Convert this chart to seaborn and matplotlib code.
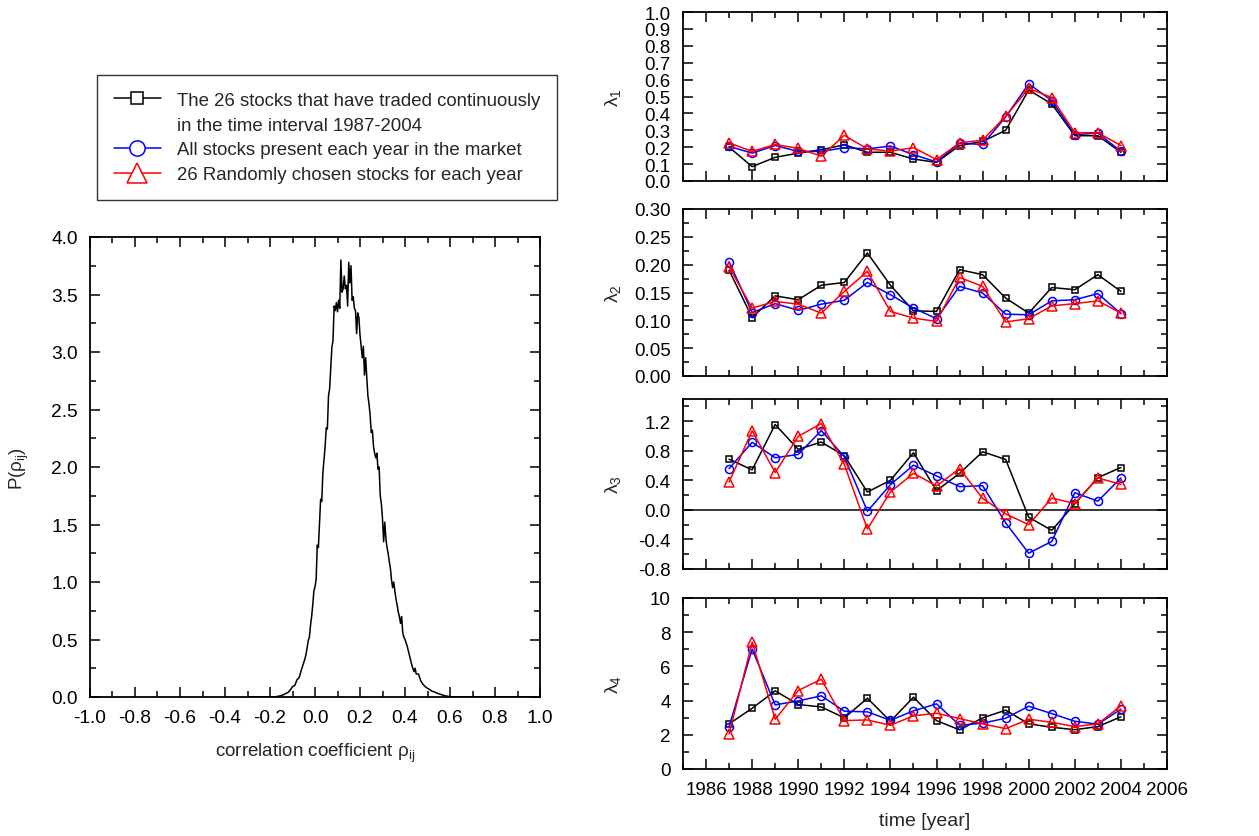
import numpy as np
import pandas as pd
import matplotlib
matplotlib.use("Agg")
import matplotlib.pyplot as plt
from matplotlib.lines import Line2D
from matplotlib.ticker import MultipleLocator, FormatStrFormatter
import seaborn as sns

# ---------------- data ----------------
years = list(range(1987, 2005))

lam1_const = [0.20, 0.085, 0.14, 0.165, 0.185, 0.214, 0.17, 0.17, 0.13, 0.11, 0.21, 0.234, 0.30, 0.538, 0.456, 0.268, 0.268, 0.17]
lam1_all = [0.205, 0.165, 0.21, 0.175, 0.175, 0.197, 0.19, 0.207, 0.156, 0.113, 0.224, 0.216, 0.379, 0.575, 0.476, 0.274, 0.284, 0.175]
lam1_rand = [0.226, 0.175, 0.216, 0.193, 0.147, 0.27, 0.19, 0.177, 0.197, 0.127, 0.226, 0.242, 0.383, 0.548, 0.494, 0.286, 0.286, 0.21]

lam2_const = [0.190, 0.105, 0.144, 0.137, 0.163, 0.168, 0.221, 0.163, 0.117, 0.116, 0.191, 0.182, 0.140, 0.113, 0.159, 0.155, 0.182, 0.152]
lam2_all = [0.205, 0.114, 0.130, 0.118, 0.129, 0.136, 0.168, 0.146, 0.122, 0.103, 0.161, 0.149, 0.111, 0.110, 0.135, 0.137, 0.148, 0.112]
lam2_rand = [0.196, 0.122, 0.134, 0.129, 0.113, 0.152, 0.188, 0.116, 0.104, 0.098, 0.177, 0.161, 0.097, 0.103, 0.126, 0.130, 0.135, 0.113]

lam3_const = [0.686, 0.541, 1.155, 0.818, 0.918, 0.732, 0.241, 0.40, 0.773, 0.259, 0.495, 0.786, 0.682, -0.10, -0.277, 0.082, 0.436, 0.573]
lam3_all = [0.559, 0.914, 0.705, 0.75, 1.073, 0.718, -0.018, 0.341, 0.605, 0.459, 0.314, 0.327, -0.177, -0.586, -0.427, 0.232, 0.118, 0.432]
lam3_rand = [0.377, 1.07, 0.505, 0.995, 1.168, 0.614, -0.259, 0.241, 0.495, 0.323, 0.559, 0.155, -0.055, -0.20, 0.159, 0.086, 0.432, 0.345]

lam4_const = [2.64, 3.55, 4.57, 3.77, 3.63, 2.99, 4.14, 2.79, 4.20, 2.83, 2.29, 2.99, 3.44, 2.64, 2.44, 2.30, 2.48, 3.05]
lam4_all = [2.48, 7.01, 3.75, 3.98, 4.28, 3.38, 3.34, 2.85, 3.40, 3.81, 2.56, 2.68, 2.97, 3.67, 3.24, 2.79, 2.62, 3.50]
lam4_rand = [2.05, 7.42, 2.91, 4.59, 5.25, 2.83, 2.87, 2.56, 3.11, 3.26, 2.95, 2.64, 2.36, 2.91, 2.73, 2.48, 2.64, 3.69]

series_labels = ["The 26 stocks that have traded continuously",
                 "in the time interval 1987-2004",
                 "All stocks present each year in the market",
                 "26 Randomly chosen stocks for each year"]
panel_ylabels = [r"λ$_1$", r"λ$_2$", r"λ$_3$", r"λ$_4$"]
year_ticks = list(range(1986, 2007, 2))

# distribution of correlation coefficients
rho = [-0.30, -0.20, -0.19, -0.18, -0.17, -0.16, -0.15, -0.14, -0.13, -0.12, -0.11,
       -0.10, -0.09, -0.08, -0.07, -0.06, -0.05, -0.045, -0.04, -0.035, -0.03, -0.025,
       -0.02, -0.015, -0.01, -0.005,
       0.000, 0.005, 0.010, 0.015, 0.020, 0.025, 0.030, 0.035, 0.040, 0.045,
       0.050, 0.055, 0.060, 0.065, 0.070, 0.075, 0.080, 0.085, 0.090, 0.095,
       0.100, 0.105, 0.110, 0.115, 0.120, 0.125, 0.130, 0.135, 0.140, 0.145,
       0.150, 0.155, 0.160, 0.165, 0.170, 0.175, 0.180, 0.185, 0.190, 0.195,
       0.200, 0.205, 0.210, 0.215, 0.220, 0.225, 0.230, 0.235, 0.240, 0.245,
       0.250, 0.255, 0.260, 0.265, 0.270, 0.275, 0.280, 0.285, 0.290, 0.295,
       0.300, 0.305, 0.310, 0.315, 0.320, 0.325, 0.330, 0.335, 0.340, 0.345,
       0.350, 0.355, 0.360, 0.365, 0.370, 0.375, 0.380, 0.385, 0.390, 0.395,
       0.400, 0.41, 0.42, 0.43, 0.44, 0.445, 0.45, 0.46, 0.47, 0.48, 0.49,
       0.50, 0.51, 0.52, 0.53, 0.54, 0.55, 0.56, 0.57, 0.58, 0.59, 0.60, 0.61, 0.62,
       0.70, 0.80, 0.90, 0.98]
p_rho = [0.0, 0.0, 0.0, 0.002, 0.004, 0.008, 0.012, 0.02, 0.03, 0.04, 0.06,
         0.09, 0.10, 0.15, 0.17, 0.24, 0.30, 0.33, 0.37, 0.43, 0.49, 0.52,
         0.62, 0.70, 0.80, 0.92,
         0.96, 1.02, 1.32, 1.30, 1.52, 1.72, 1.70, 1.95, 2.06, 2.18,
         2.34, 2.33, 2.62, 2.68, 2.86, 3.04, 3.10, 3.40, 3.36, 3.43,
         3.35, 3.45, 3.38, 3.80, 3.52, 3.55, 3.66, 3.55, 3.58, 3.40,
         3.78, 3.60, 3.75, 3.45, 3.48, 3.38, 3.36, 3.16, 3.34, 3.30,
         3.15, 3.05, 2.95, 3.05, 2.80, 2.95, 2.78, 2.62, 2.55, 2.45,
         2.30, 2.32, 2.18, 2.12, 2.08, 2.12, 1.98, 2.00, 1.75, 1.68,
         1.55, 1.35, 1.52, 1.38, 1.30, 1.25, 1.18, 1.12, 1.02, 0.95,
         1.00, 0.92, 0.85, 0.80, 0.74, 0.70, 0.64, 0.70, 0.56, 0.52,
         0.50, 0.44, 0.36, 0.28, 0.22, 0.25, 0.20, 0.20, 0.14, 0.11, 0.09,
         0.075, 0.065, 0.05, 0.045, 0.035, 0.028, 0.02, 0.015, 0.01, 0.006, 0.003, 0.002, 0.0,
         0.0, 0.0, 0.0, 0.0]

# ---------------- style ----------------
sns.set_style("ticks")
plt.rcParams['font.family'] = ['Liberation Sans', 'DejaVu Sans']
plt.rcParams['mathtext.fontset'] = 'custom'
plt.rcParams['mathtext.rm'] = 'Liberation Sans'
plt.rcParams['mathtext.it'] = 'Liberation Sans'
plt.rcParams['mathtext.bf'] = 'Liberation Sans'
plt.rcParams['axes.linewidth'] = 1.3
plt.rcParams['axes.edgecolor'] = 'black'

W, H = 1259, 837
fig = plt.figure(figsize=(W / 100, H / 100), dpi=100)


def frac(x0, y0, x1, y1):
    return [x0 / W, 1 - y1 / H, (x1 - x0) / W, (y1 - y0) / H]


def style_ticks(ax, fs, pad):
    ax.tick_params(which='both', direction='in', top=True, right=True,
                   labelsize=fs, pad=pad, colors='black', width=1.1)
    ax.tick_params(which='major', length=7)
    ax.tick_params(which='minor', length=4)


# ---------------- left panel ----------------
axL = fig.add_axes(frac(90, 238, 540, 698))
sns.lineplot(x=rho, y=p_rho, ax=axL, color='black', linewidth=1.1, sort=False)
axL.set_xlim(-1.0, 1.0)
axL.set_ylim(0.0, 4.0)
axL.xaxis.set_major_locator(MultipleLocator(0.2))
axL.xaxis.set_minor_locator(MultipleLocator(0.1))
axL.yaxis.set_major_locator(MultipleLocator(0.5))
axL.yaxis.set_minor_locator(MultipleLocator(0.25))
axL.xaxis.set_major_formatter(FormatStrFormatter('%.1f'))
axL.yaxis.set_major_formatter(FormatStrFormatter('%.1f'))
style_ticks(axL, 13.8, 9)
axL.set_xlabel(r"correlation coefficient ρ$_{\rm ij}$", fontsize=13.5, labelpad=10)
axL.set_ylabel(r"P(ρ$_{\rm ij}$)", fontsize=13.5, labelpad=14)

# ---------------- right panels ----------------
panel_px = [(13, 182), (210, 377), (400, 570), (599, 770)]
panel_data = [(lam1_const, lam1_all, lam1_rand),
              (lam2_const, lam2_all, lam2_rand),
              (lam3_const, lam3_all, lam3_rand),
              (lam4_const, lam4_all, lam4_rand)]
ylims = [(0.0, 1.0), (0.0, 0.30), (-0.8, 1.5), (0.0, 10.0)]
majors = [0.1, 0.05, 0.4, 2.0]
minors = [0.1, 0.025, 0.2, 1.0]
fmts = ['%.1f', '%.2f', '%.1f', '%.0f']

colors = ['black', 'blue', 'red']
markers = ['s', 'o', '^']
msizes = [5.0, 5.8, 6.8]

for i, ((y0, y1), data) in enumerate(zip(panel_px, panel_data)):
    ax = fig.add_axes(frac(683, y0, 1167, y1))
    if i == 2:
        ax.axhline(0.0, color='black', linewidth=1.1, zorder=1)
    for vals, c, m, ms in zip(data, colors, markers, msizes):
        sns.lineplot(x=years, y=vals, ax=ax, color=c, linewidth=1.1,
                     marker=m, markersize=ms, markerfacecolor='none',
                     markeredgecolor=c, markeredgewidth=1.1, zorder=3)
    ax.set_xlim(1985, 2006)
    ax.set_ylim(*ylims[i])
    ax.set_xticks(year_ticks)
    ax.xaxis.set_minor_locator(MultipleLocator(1))
    ax.yaxis.set_major_locator(MultipleLocator(majors[i]))
    ax.yaxis.set_minor_locator(MultipleLocator(minors[i]))
    ax.yaxis.set_major_formatter(FormatStrFormatter(fmts[i]))
    style_ticks(ax, 13.5, 9)
    if i == 2:
        ax.set_yticks([1.2, 0.8, 0.4, 0.0, -0.4, -0.8])
        ax.set_ylim(*ylims[i])
    ax.set_ylabel(panel_ylabels[i], fontsize=14)
    ax.yaxis.set_label_coords(-0.125, 0.5)
    if i < 3:
        ax.tick_params(labelbottom=False)
        ax.set_xlabel("")
    else:
        ax.set_xlabel("time [year]", fontsize=14, labelpad=10)

# ---------------- legend ----------------
handles = [
    Line2D([], [], color='black', marker='s', markersize=9, markerfacecolor='white',
           markeredgecolor='black', linewidth=1.1, markeredgewidth=1.1),
    Line2D([], [], linestyle='none', marker=None),
    Line2D([], [], color='blue', marker='o', markersize=11, markerfacecolor='white',
           markeredgecolor='blue', linewidth=1.1, markeredgewidth=1.1),
    Line2D([], [], color='red', marker='^', markersize=14, markerfacecolor='white',
           markeredgecolor='red', linewidth=1.1, markeredgewidth=1.1),
]
leg = fig.legend(handles, series_labels, loc='upper left',
                 bbox_to_anchor=(97 / W, 1 - 76 / H), borderaxespad=0,
                 fontsize=13.4, frameon=True, fancybox=False, edgecolor='black',
                 handlelength=2.55, handletextpad=0.85, labelspacing=0.42,
                 borderpad=0.9)
leg.get_frame().set_linewidth(1.0)

fig.savefig("out.png", dpi=100)
